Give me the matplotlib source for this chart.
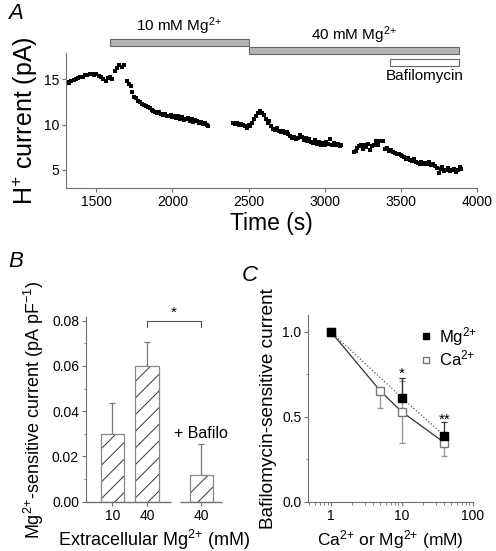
import numpy as np
import matplotlib
matplotlib.use("Agg")
import matplotlib.pyplot as plt
from matplotlib.patches import Rectangle
from matplotlib.ticker import MultipleLocator, LogLocator, NullFormatter

plt.rcParams["font.family"] = ["Liberation Sans", "DejaVu Sans"]
plt.rcParams["mathtext.fontset"] = "custom"
plt.rcParams["mathtext.rm"] = "Liberation Sans"
plt.rcParams["mathtext.it"] = "Liberation Sans:italic"
plt.rcParams["mathtext.bf"] = "Liberation Sans:bold"
plt.rcParams["hatch.linewidth"] = 0.7

# ---- Panel A: H+ current trace (s, pA)
seg1_t = [1305, 1320, 1335, 1350, 1365, 1380, 1395, 1410, 1425, 1440, 1455, 1470, 1485,
          1500, 1515, 1530, 1545, 1560, 1575, 1590, 1605, 1620, 1635, 1650, 1665, 1680]
seg1_i = [14.7, 14.6, 14.8, 14.9, 15.0, 15.1, 15.2, 15.3, 15.5, 15.5, 15.6, 15.6, 15.5,
          15.6, 15.4, 15.2, 15.0, 14.8, 15.1, 15.2, 15.0, 15.9, 16.2, 16.6, 16.4, 16.6]
seg2_t = [1700, 1712, 1725, 1737, 1750, 1762, 1775, 1787, 1800, 1812, 1825, 1837, 1850,
          1862, 1875, 1887, 1900, 1912, 1925, 1937, 1950, 1962, 1975, 1987, 2000, 2012,
          2025, 2037, 2050, 2062, 2075, 2087, 2100, 2112, 2125, 2137, 2150, 2162, 2175,
          2187, 2200, 2212, 2225, 2235]
seg2_i = [14.8, 14.5, 14.3, 13.6, 13.0, 12.9, 12.6, 12.5, 12.3, 12.2, 12.0, 11.9, 11.8,
          11.6, 11.5, 11.4, 11.3, 11.4, 11.2, 11.1, 11.2, 11.0, 10.9, 11.1, 10.8, 10.9,
          10.7, 11.0, 10.6, 10.8, 10.5, 10.6, 10.7, 10.4, 10.6, 10.3, 10.5, 10.4, 10.2,
          10.3, 10.1, 10.2, 9.9, 9.8]
seg3_t = [2400, 2412, 2425, 2437, 2450, 2462, 2475, 2487, 2500, 2512, 2525, 2537, 2550,
          2562, 2575, 2587, 2600, 2612, 2625, 2637, 2650, 2662, 2675, 2687, 2700, 2712,
          2725, 2737, 2750, 2762, 2775, 2787, 2800, 2812, 2825, 2837, 2850, 2862, 2875,
          2887, 2900, 2912, 2925, 2937, 2950, 2962, 2975, 2987, 3000, 3012, 3025, 3037,
          3050, 3062, 3075, 3087, 3100, 3110]
seg3_i = [10.2, 10.1, 10.2, 10.0, 10.1, 9.9, 9.8, 9.6, 9.9, 9.8, 10.2, 10.6, 11.0,
          11.3, 11.5, 11.3, 11.1, 10.6, 10.2, 10.4, 9.8, 9.5, 9.4, 9.6, 9.3, 9.2,
          9.3, 9.1, 9.2, 9.0, 8.7, 8.5, 8.6, 8.4, 8.5, 8.8, 8.6, 8.3, 8.5,
          8.2, 8.4, 8.1, 8.0, 8.3, 7.9, 8.1, 7.8, 8.0, 7.8, 8.1, 7.9, 8.4,
          7.8, 8.0, 7.7, 7.9, 7.6, 7.8]
seg4_t = [3195, 3205, 3215, 3225, 3237, 3250, 3262, 3275, 3287, 3300, 3312, 3325, 3337,
          3350, 3362, 3375, 3387, 3400, 3412, 3425, 3437, 3450, 3462, 3475, 3487, 3500,
          3512, 3525, 3537, 3550, 3562, 3575, 3587, 3600, 3612, 3625, 3637, 3650, 3662,
          3675, 3687, 3700, 3712, 3725, 3737, 3750, 3762, 3775, 3787, 3800, 3812, 3825,
          3837, 3850, 3862, 3875, 3887, 3900]
seg4_i = [7.0, 7.1, 7.4, 7.6, 7.8, 7.3, 7.7, 7.5, 7.9, 7.2, 7.6, 7.8, 8.2,
          7.7, 8.2, 8.2, 8.2, 7.3, 7.4, 7.1, 7.2, 7.0, 6.9, 6.8, 6.8, 6.6,
          6.5, 6.4, 6.2, 6.3, 6.1, 6.0, 6.2, 5.9, 5.8, 5.7, 5.9, 5.7, 5.8,
          5.6, 5.9, 5.5, 5.6, 5.4, 5.2, 4.7, 5.1, 5.3, 4.9, 5.0, 5.2, 4.9,
          5.0, 5.1, 4.8, 5.0, 5.3, 5.1]

mg10_span = [1590, 2500]
mg40_span = [2500, 3886]
bafA_span = [3430, 3886]

# ---- Panel B: Mg-sensitive current (pA/pF)
b_labels = ["10", "40", "40"]
b_mean = [0.0297, 0.0600, 0.0116]
b_sem = [0.0141, 0.0107, 0.0137]

# ---- Panel C: normalised bafilomycin-sensitive current
mg_conc = [1, 10, 40]
mg_val = [1.0, 0.612, 0.388]
mg_err = [0.0, 0.114, 0.078]
ca_conc = [1, 5, 10, 40]
ca_val = [1.0, 0.651, 0.529, 0.347]
ca_err = [0.0, 0.102, 0.182, 0.078]

axis_gray = "#707070"
SUP2 = "$^{2{+}}$"

fig = plt.figure(figsize=(4.96, 5.51), dpi=100)

# ================= A
ax = fig.add_axes([0.1331, 0.6588, 0.828, 0.245])
for t, i in [(seg1_t, seg1_i), (seg2_t, seg2_i), (seg3_t, seg3_i), (seg4_t, seg4_i)]:
    ax.plot(t, i, ls="none", marker="s", ms=2.6, color="black", mec="black", mew=0)
ax.set_xlim(1300, 4000)
ax.set_ylim(3, 17.9)
ax.set_xticks([1500, 2000, 2500, 3000, 3500, 4000])
ax.set_yticks([5, 10, 15])
ax.set_xlabel("Time (s)", fontsize=16.5, labelpad=2)
ax.set_ylabel("H$^{+}$ current (pA)", fontsize=18, labelpad=3)

tr = ax.get_xaxis_transform()
ax.add_patch(Rectangle((mg10_span[0], 1.052), mg10_span[1] - mg10_span[0], 0.052,
                       transform=tr, clip_on=False, facecolor="#b4b4b4",
                       edgecolor="#666666", lw=0.8))
ax.add_patch(Rectangle((mg40_span[0], 0.990), mg40_span[1] - mg40_span[0], 0.052,
                       transform=tr, clip_on=False, facecolor="#b4b4b4",
                       edgecolor="#666666", lw=0.8))
ax.add_patch(Rectangle((bafA_span[0], 0.904), bafA_span[1] - bafA_span[0], 0.052,
                       transform=tr, clip_on=False, facecolor="white",
                       edgecolor="#666666", lw=0.8))
ax.text(np.mean(mg10_span), 1.12, "10 mM Mg" + SUP2, transform=tr, ha="center",
        va="bottom", fontsize=11)
ax.text(np.mean(mg40_span), 1.055, "40 mM Mg" + SUP2, transform=tr, ha="center",
        va="bottom", fontsize=11)
ax.text(np.mean(bafA_span), 0.88, "Bafilomycin", transform=tr, ha="center",
        va="top", fontsize=11)
fig.text(0.016, 0.975, "A", fontsize=16, style="italic", va="center")

# ================= B
axb = fig.add_axes([0.1734, 0.0895, 0.274, 0.3347])
bx = [1, 2, 3.58]
axb.bar(bx, b_mean, width=0.68, color="white", edgecolor="#333333", hatch="//", lw=0,
        zorder=2)
axb.bar(bx, b_mean, width=0.68, color="none", edgecolor="#888888", lw=0.9, zorder=3)
axb.errorbar(bx, b_mean, yerr=[np.zeros(3), b_sem], fmt="none", ecolor="#777777",
             elinewidth=0.9, capsize=2.2, capthick=0.9, zorder=1)
axb.set_xlim(0.23, 4.18)
axb.set_ylim(0, 0.0815)
axb.set_xticks(bx)
axb.set_xticklabels(b_labels)
axb.set_yticks([0, 0.02, 0.04, 0.06, 0.08])
axb.set_yticklabels(["0.00", "0.02", "0.04", "0.06", "0.08"])
axb.yaxis.set_minor_locator(MultipleLocator(0.01))
axb.spines["bottom"].set_visible(False)
axb.hlines(0, 0.23, 2.69, color=axis_gray, lw=1.0, clip_on=False)
axb.hlines(0, 2.97, 4.18, color=axis_gray, lw=1.0, clip_on=False)
# significance bracket
axb.plot([bx[1], bx[1], bx[2], bx[2]], [0.0770, 0.0800, 0.0800, 0.0770],
         color="#555555", lw=0.8, clip_on=False)
axb.text((bx[1] + bx[2]) / 2, 0.0805, "*", ha="center", va="bottom", fontsize=11)
axb.text(bx[2], 0.030, "+ Bafilo", ha="center", va="center", fontsize=11.5)
axb.set_xlabel("Extracellular Mg" + SUP2 + " (mM)", fontsize=13, labelpad=4)
axb.set_ylabel("Mg" + SUP2 + "-sensitive current (pA pF$^{-1}$)", fontsize=13,
               labelpad=4)
fig.text(0.016, 0.525, "B", fontsize=16, style="italic", va="center")

# ================= C
axc = fig.add_axes([0.6216, 0.0895, 0.3327, 0.3388])
axc.set_xscale("log")
axc.plot(ca_conc, ca_val, color="#333333", lw=0.9, zorder=2)
axc.plot(mg_conc, mg_val, color="#555555", lw=0.9, ls=":", zorder=2)
axc.errorbar(ca_conc, ca_val, yerr=[ca_err, [0, 0, 0.182, 0]], fmt="none",
             ecolor="#999999", elinewidth=1.0, capsize=2.2, capthick=1.0, zorder=1)
axc.errorbar(mg_conc, mg_val, yerr=[np.zeros(3), mg_err], fmt="none",
             ecolor="#333333", elinewidth=0.9, capsize=2.2, capthick=0.9, zorder=1)
axc.plot(ca_conc, ca_val, ls="none", marker="s", ms=5.3, mfc="white", mec="#777777",
         mew=1.0, zorder=3, label="Ca" + SUP2)
axc.plot(mg_conc, mg_val, ls="none", marker="s", ms=5.3, mfc="black", mec="black",
         zorder=4, label="Mg" + SUP2)
axc.text(10, 0.71, "*", ha="center", va="bottom", fontsize=11)
axc.text(40, 0.44, "**", ha="center", va="bottom", fontsize=11)
h, l = axc.get_legend_handles_labels()
axc.legend(h[::-1], l[::-1], loc="upper right", bbox_to_anchor=(1.08, 1.0),
           frameon=False, fontsize=12, markerscale=0.75, handlelength=0.5,
           handletextpad=0.5, labelspacing=0.05, borderaxespad=0.2)
axc.set_xlim(0.483, 102)
axc.set_ylim(0, 1.098)
axc.set_xticks([1, 10, 100])
axc.set_xticklabels(["1", "10", "100"])
axc.xaxis.set_minor_locator(LogLocator(base=10, subs=np.arange(2, 10)))
axc.xaxis.set_minor_formatter(NullFormatter())
axc.set_yticks([0, 0.5, 1.0])
axc.set_yticklabels(["0.0", "0.5", "1.0"])
axc.yaxis.set_minor_locator(MultipleLocator(0.25))
axc.set_xlabel("Ca" + SUP2 + " or Mg" + SUP2 + " (mM)", fontsize=12.5, labelpad=4)
axc.set_ylabel("Bafilomycin-sensitive current", fontsize=13.7, labelpad=4)
fig.text(0.488, 0.50, "C", fontsize=16, style="italic", va="center")

for a in (ax, axb, axc):
    for s in ("top", "right"):
        a.spines[s].set_visible(False)
    for s in ("left", "bottom"):
        a.spines[s].set_color(axis_gray)
    a.tick_params(which="major", direction="out", length=3, width=0.8,
                  color=axis_gray, labelsize=10, pad=2)
    a.tick_params(which="minor", direction="out", length=1.8, width=0.6,
                  color=axis_gray)

fig.savefig("out.png", dpi=100)
